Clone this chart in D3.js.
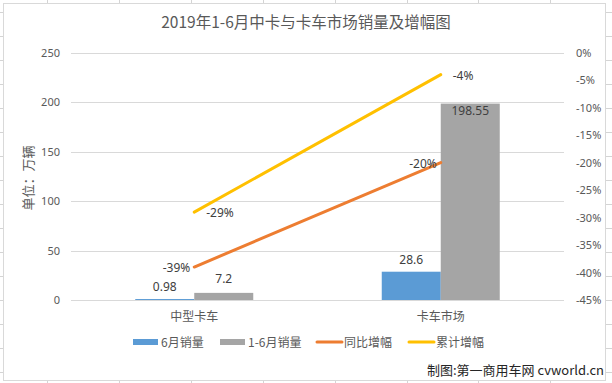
<!DOCTYPE html>
<html><head><meta charset="utf-8">
<script src="https://cdn.jsdelivr.net/npm/d3@7"></script>
<style>body{margin:0;background:#fff}svg{display:block}text{font-family:"Noto Sans CJK SC","Noto Sans",sans-serif}</style>
</head><body>
<script>
const categories = ["中型卡车", "卡车市场"];
const juneSales = [0.98, 28.6];
const ytdSales = [7.2, 198.55];
const yoyGrowth = [-39, -20];
const cumGrowth = [-29, -4];
const leftTicks = [0, 50, 100, 150, 200, 250];
const rightTicks = [0, -5, -10, -15, -20, -25, -30, -35, -40, -45];
const title = "2019年1-6月中卡与卡车市场销量及增幅图";
const seriesNames = ["6月销量", "1-6月销量", "同比增幅", "累计增幅"];

const W = 612, H = 383;
const svg = d3.select("body").append("svg").attr("width", W).attr("height", H);
svg.append("rect").attr("width", W).attr("height", H).attr("fill", "#fff");

// spreadsheet cell grid behind chart
const colX = d3.range(47, W, 71.9);
const rowY = d3.range(12, H, 24);
svg.selectAll(".vc").data(colX).join("line").attr("x1", d => Math.round(d) + 0.5).attr("x2", d => Math.round(d) + 0.5)
  .attr("y1", 0).attr("y2", H).attr("stroke", "#d4d4d4");
svg.selectAll(".hc").data(rowY).join("line").attr("y1", d => d + 0.5).attr("y2", d => d + 0.5)
  .attr("x1", 0).attr("x2", W).attr("stroke", "#d4d4d4");
svg.append("rect").attr("x", 3.5).attr("y", 3.5).attr("width", 602).attr("height", 377)
  .attr("fill", "#fff").attr("stroke", "#d9d9d9");

const x0 = 71, x1 = 564, yTop = 52.7, yBot = 300;
const x = d3.scaleBand().domain(categories).range([x0, x1]).padding(0);
const yL = d3.scaleLinear().domain([0, 250]).range([yBot, yTop]);
const yR = d3.scaleLinear().domain([-45, 0]).range([yBot, yTop]);
const barW = 59;
const sub = d3.scaleBand().domain([0, 1]).range([-barW, barW]).padding(0);

// gridlines
svg.append("g").selectAll("line").data(leftTicks).join("line")
  .attr("x1", x0).attr("x2", x1).attr("y1", d => Math.round(yL(d)) + 0.5).attr("y2", d => Math.round(yL(d)) + 0.5)
  .attr("stroke", "#d9d9d9");

// axes
const gl = svg.append("g").attr("transform", `translate(${x0},0)`)
  .call(d3.axisLeft(yL).tickValues(leftTicks).tickSize(0).tickPadding(11));
gl.select(".domain").remove();
gl.selectAll("text").attr("fill", "#595959").style("font-size", "11px").style("font-family", "Noto Sans, sans-serif");

const gr = svg.append("g").attr("transform", `translate(${x1},0)`)
  .call(d3.axisRight(yR).tickValues(rightTicks).tickSize(0).tickPadding(12).tickFormat(d => d + "%"));
gr.select(".domain").remove();
gr.selectAll("text").attr("fill", "#595959").style("font-size", "11px").style("font-family", "Noto Sans, sans-serif");

const gx = svg.append("g").attr("transform", `translate(0,${yBot})`)
  .call(d3.axisBottom(x).tickSize(0).tickPadding(12));
gx.select(".domain").remove();
gx.selectAll("text").attr("fill", "#595959").style("font-size", "12px");

// bars
const colors = ["#5B9BD5", "#A5A5A5", "#ED7D31", "#FFC000"];
[juneSales, ytdSales].forEach((vals, si) => {
  svg.append("g").selectAll("rect").data(vals).join("rect")
    .attr("x", (d, i) => x(categories[i]) + x.bandwidth() / 2 + sub(si))
    .attr("width", sub.bandwidth())
    .attr("y", d => yL(d)).attr("height", d => yBot - yL(d))
    .attr("fill", colors[si]);
});

// bar labels
const lblStyle = s => s.attr("fill", "#404040").style("font-size", "12px").style("font-family", "Noto Sans, sans-serif").attr("text-anchor", "middle");
svg.append("g").selectAll("text").data(juneSales).join("text")
  .attr("x", (d, i) => x(categories[i]) + x.bandwidth() / 2 + sub(0) + barW / 2)
  .attr("y", d => yL(d) - 8)
  .text(d => d).call(lblStyle);
svg.append("g").selectAll("text").data(ytdSales).join("text")
  .attr("x", (d, i) => x(categories[i]) + x.bandwidth() / 2 + sub(1) + barW / 2)
  .attr("y", (d, i) => d > 150 ? yL(d) + 11 : yL(d) - 10)
  .text(d => d).call(lblStyle);

// lines
const cx = i => x(categories[i]) + x.bandwidth() / 2;
const line = d3.line().x((d, i) => cx(i)).y(d => yR(d));
[[yoyGrowth, 2, "end", -4], [cumGrowth, 3, "start", 12]].forEach(([vals, ci, anchor, dx]) => {
  svg.append("path").datum(vals).attr("d", line).attr("fill", "none")
    .attr("stroke", colors[ci]).attr("stroke-width", 3).attr("stroke-linecap", "round");
  svg.append("g").selectAll("text").data(vals).join("text")
    .attr("x", (d, i) => cx(i) + dx).attr("y", d => yR(d) + 5)
    .attr("text-anchor", anchor).attr("fill", "#404040")
    .style("font-size", "12px").style("font-family", "Noto Sans, sans-serif")
    .text(d => d + "%");
});

// title
svg.append("text").attr("x", 306).attr("y", 28).attr("text-anchor", "middle")
  .attr("fill", "#595959").style("font-size", "15.5px").text(title);

// axis title
svg.append("text").attr("transform", "translate(33,178) rotate(-90)").attr("text-anchor", "middle")
  .attr("fill", "#595959").style("font-size", "13px").text("单位：万辆");

// legend
const legend = [
  {name: seriesNames[0], c: colors[0], type: "rect", x: 133},
  {name: seriesNames[1], c: colors[1], type: "rect", x: 220},
  {name: seriesNames[2], c: colors[2], type: "line", x: 316},
  {name: seriesNames[3], c: colors[3], type: "line", x: 408}
];
const ly = 342;
legend.forEach(l => {
  if (l.type === "rect") svg.append("rect").attr("x", l.x).attr("y", ly - 3).attr("width", 25).attr("height", 6).attr("fill", l.c);
  else svg.append("line").attr("x1", l.x + 1).attr("x2", l.x + 26).attr("y1", ly).attr("y2", ly).attr("stroke", l.c).attr("stroke-width", 3).attr("stroke-linecap", "round");
  svg.append("text").attr("x", l.x + 28).attr("y", ly + 4.5).attr("fill", "#595959").style("font-size", "12px").text(l.name);
});

// footer
svg.append("text").attr("x", 604).attr("y", 375).attr("text-anchor", "end")
  .attr("fill", "#262626").style("font-size", "13px").text("制图:第一商用车网 cvworld.cn");
</script>
</body></html>
